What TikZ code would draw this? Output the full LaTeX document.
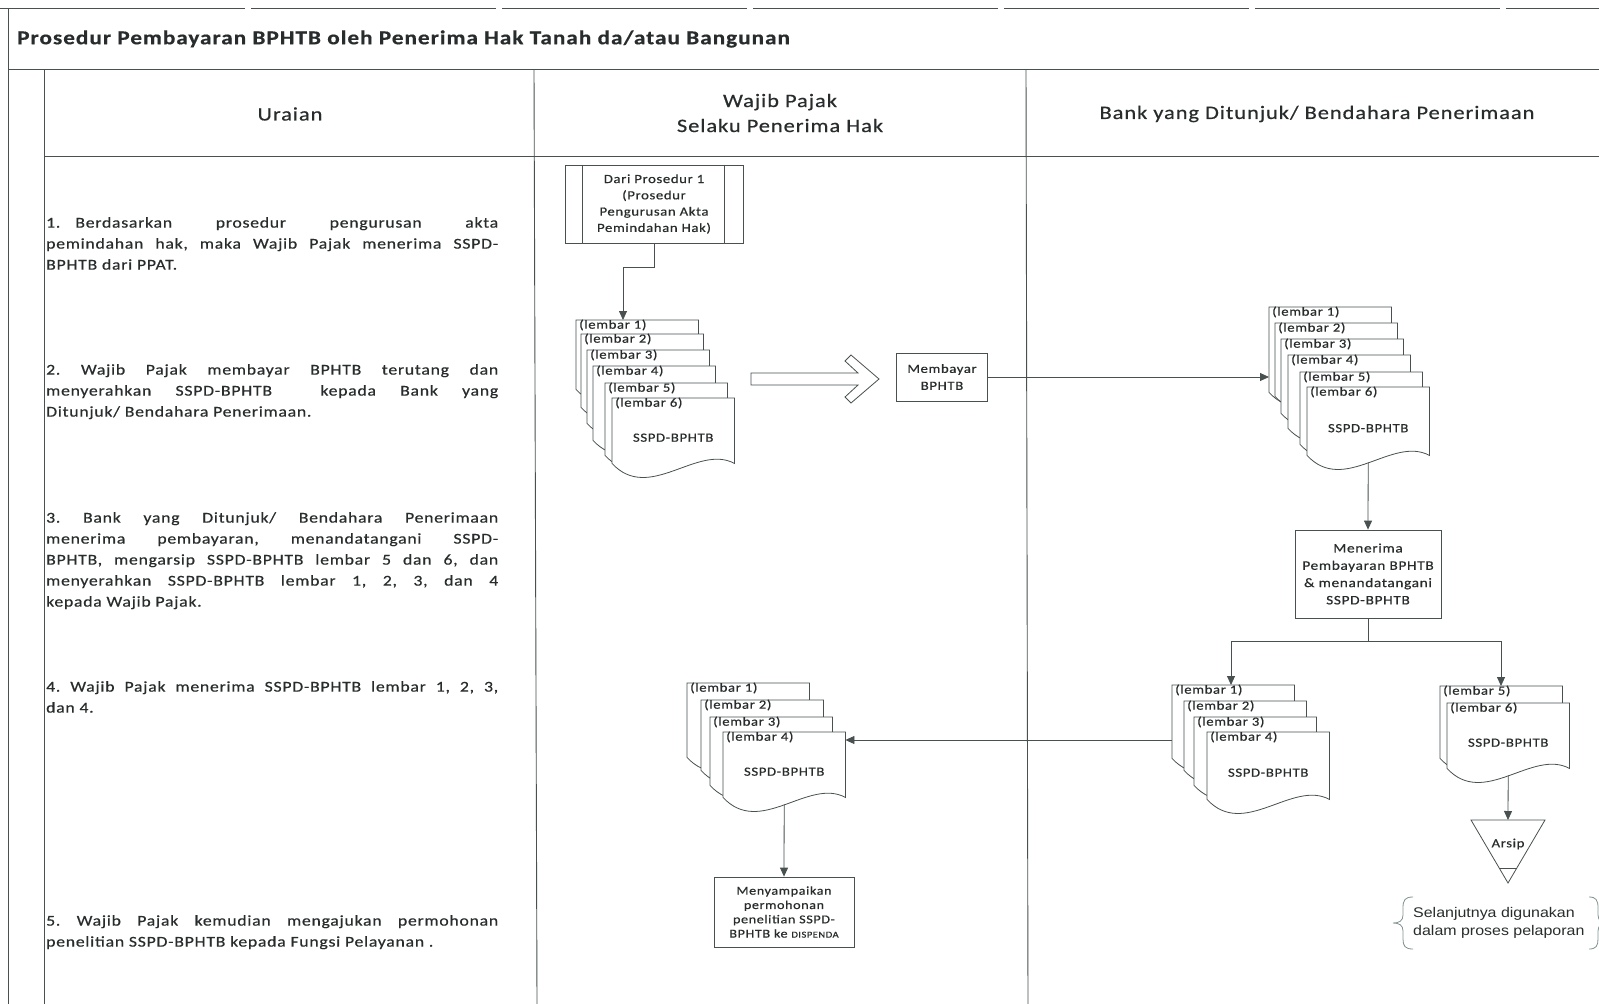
\documentclass[tikz,border=0pt]{standalone}
\usepackage{fontspec}
\setmainfont{Carlito}[FakeStretch=1.18,LetterSpace=5,FakeBold=0.5]
\newfontfamily\arialfont{Liberation Sans}[FakeStretch=1.14]
\usetikzlibrary{arrows.meta,calc}
\definecolor{ink}{RGB}{72,80,80}
\definecolor{txt}{RGB}{40,44,44}
\definecolor{brace}{RGB}{130,146,146}
\tolerance=10000
\hbadness=10000
\frenchspacing
\newcommand{\lembar}[5]{%
  \node[sheetbox, minimum height=#4pt] (#1) at (#2,#3) {};
  \filldraw[sheetline] (#1.north west) -- (#1.north east) -- (#1.south east)
    .. controls ($(#1.south east)+(-37,-20)$) and ($(#1.south west)+(37,40)$) .. (#1.south west) -- cycle;
  \node[lembartext] (#1l) at ([xshift=3pt,yshift=-5pt]#1.north west) {#5};}
\begin{document}
\begin{tikzpicture}[x=1pt,y=-1pt,
  every node/.style={text=txt, inner sep=0pt},
  rule/.style={draw=ink, line width=0.9pt},
  sheetbox/.style={rectangle, anchor=north west, minimum width=122pt},
  sheetline/.style={draw=ink, fill=white, line width=0.8pt},
  lembartext/.style={anchor=west, font=\fontsize{12.5}{14}\selectfont},
  doctext/.style={font=\fontsize{12.5}{14}\selectfont},
  box/.style={draw=ink, fill=white, line width=0.8pt, align=center},
  flow/.style={draw=ink, line width=0.8pt, -{Triangle[length=9pt,width=8pt]}},
  uraian/.style={anchor=north west, text width=452pt, align=justify, font=\fontsize{15}{21}\selectfont},
  kepala/.style={font=\fontsize{19}{25}\selectfont, align=center}]
\useasboundingbox (0,0) rectangle (1599,1004);
\draw[rule, dash pattern=on 245pt off 6pt] (0,8) -- (1599,8);
\draw[rule] (8,8) -- (8,1004);
\draw[rule] (8,69) -- (1599,69);
\draw[rule] (44,69) -- (44,1004);
\draw[rule] (44,156) -- (1599,156);
\draw[rule] (534,69) -- (537,1004);
\draw[rule] (1026,69) -- (1028,1004);

\node[anchor=west, font=\bfseries\fontsize{19.7}{22}\selectfont] (judul) at (17,39) {Prosedur Pembayaran BPHTB oleh Penerima Hak Tanah da/atau Bangunan};
\node[kepala] (hUraian) at (290,114) {Uraian};
\node[kepala] (hWajib) at (780,113) {Wajib Pajak\\Selaku Penerima Hak};
\node[kepala] (hBank) at (1317,114) {Bank yang Ditunjuk/ Bendahara Penerimaan};

\node[uraian] (u1) at (46,217) {1.\quad Berdasarkan prosedur pengurusan akta\linebreak pemindahan hak, maka Wajib Pajak menerima SSPD-\linebreak BPHTB dari PPAT.};
\node[uraian] (u2) at (46,364) {2. Wajib Pajak membayar BPHTB terutang dan\linebreak menyerahkan SSPD-BPHTB\ \ kepada Bank yang\linebreak Ditunjuk/ Bendahara Penerimaan.};
\node[uraian] (u3) at (46,512) {3. Bank yang Ditunjuk/ Bendahara Penerimaan\linebreak menerima pembayaran, menandatangani SSPD-\linebreak BPHTB, mengarsip SSPD-BPHTB lembar 5 dan 6, dan\linebreak menyerahkan SSPD-BPHTB lembar 1, 2, 3, dan 4\linebreak kepada Wajib Pajak.};
\node[uraian] (u4) at (46,681) {4. Wajib Pajak menerima SSPD-BPHTB lembar 1, 2, 3,\linebreak dan 4.};
\node[uraian] (u5) at (46,915) {5. Wajib Pajak kemudian mengajukan permohonan\linebreak penelitian SSPD-BPHTB kepada Fungsi Pelayanan .};

\node[box, minimum width=178pt, minimum height=78pt, font=\fontsize{12.5}{16.3}\selectfont] (dari) at (654,204) {Dari Prosedur 1\\(Prosedur\\Pengurusan Akta\\Pemindahan Hak)};
\draw[sheetline] ([xshift=18pt]dari.north west) -- ([xshift=18pt]dari.south west);
\draw[sheetline] ([xshift=-19pt]dari.north east) -- ([xshift=-19pt]dari.south east);

\lembar{L1}{576}{320}{69}{(lembar 1)}
\lembar{L2}{581}{334}{73}{(lembar 2)}
\lembar{L3}{587}{350}{73}{(lembar 3)}
\lembar{L4}{593}{366}{74}{(lembar 4)}
\lembar{L5}{605}{383}{72}{(lembar 5)}
\lembar{L6}{612}{398}{65}{(lembar 6)}
\node[doctext] (L6t) at ([yshift=-7pt]L6.center) {SSPD-BPHTB};
\draw[flow] (dari.south) -- ++(0,24) -| ([xshift=47pt]L1.north west);

\draw[sheetline] (751,373) -- (858,373) -- (845,361) -- (851,355) -- (879,379) -- (851,403) -- (845,397) -- (858,385) -- (751,385) -- cycle;

\node[box, minimum width=91pt, minimum height=48pt, font=\fontsize{12.5}{17}\selectfont] (bayar) at (942,377) {Membayar\\BPHTB};

\lembar{R1}{1269}{307}{85}{(lembar 1)}
\lembar{R2}{1275}{323}{73}{(lembar 2)}
\lembar{R3}{1281}{339}{74}{(lembar 3)}
\lembar{R4}{1288}{355}{73}{(lembar 4)}
\lembar{R5}{1300}{372}{72}{(lembar 5)}
\lembar{R6}{1307}{387}{68}{(lembar 6)}
\node[doctext] (R6t) at ([yshift=-7pt]R6.center) {SSPD-BPHTB};
\draw[flow] (bayar.east) -- (bayar.east -| R1.west);

\node[box, minimum width=146pt, minimum height=88pt, font=\fontsize{13}{17.3}\selectfont] (terima) at (1368,574) {Menerima\\Pembayaran BPHTB\\\& menandatangani\\SSPD-BPHTB};
\draw[flow] ([yshift=-7pt]R6.south) -- (terima.north);

\lembar{B1}{1172}{685}{73}{(lembar 1)}
\lembar{B2}{1184}{701}{69}{(lembar 2)}
\lembar{B3}{1194}{717}{68}{(lembar 3)}
\lembar{B4}{1207}{732}{67}{(lembar 4)}
\node[doctext] (B4t) at ([yshift=-7pt]B4.center) {SSPD-BPHTB};

\lembar{A5}{1440}{686}{72}{(lembar 5)}
\lembar{A6}{1447}{703}{65}{(lembar 6)}
\node[doctext] (A6t) at ([yshift=-7pt]A6.center) {SSPD-BPHTB};

\draw[flow] (terima.south) -- ++(0,23) -| ([xshift=59pt]B1.north west);
\draw[flow] (terima.south) -- ++(0,23) -| ([xshift=61pt]A5.north west);

\lembar{W1}{687}{683}{74}{(lembar 1)}
\lembar{W2}{701}{700}{70}{(lembar 2)}
\lembar{W3}{710}{717}{68}{(lembar 3)}
\lembar{W4}{723}{732}{65}{(lembar 4)}
\node[doctext] (W4t) at ([yshift=-7pt]W4.center) {SSPD-BPHTB};
\draw[flow] ([yshift=-55pt]B1.north west) -- ([yshift=-55pt]B1.north west -| W4.east);

\node[box, minimum width=140pt, minimum height=70pt, font=\fontsize{12}{14.3}\selectfont] (kirim) at (784,912) {Menyampaikan\\permohonan\\penelitian SSPD-\\BPHTB ke {\fontsize{9}{10}\selectfont DISPENDA}};
\draw[flow] ([yshift=-7pt]W4.south) -- (kirim.north);

\draw[sheetline] (1471,820) -- (1545,820) -- (1508,883) -- cycle;
\draw[sheetline] (1499,868) -- (1517,868);
\node[doctext] (arsip) at (1508,844) {Arsip};
\coordinate (arsiptop) at (1508,820);
\draw[flow] ([yshift=-7pt]A6.south) -- (arsiptop);

\node[anchor=west, align=left, font=\arialfont\fontsize{14}{18}\selectfont] (catatan) at (1413,923) {Selanjutnya digunakan\\dalam proses pelaporan};
\draw[draw=brace, line width=0.8pt] (1413,897) .. controls (1405,897) and (1403,900) .. (1403,908) -- (1403,915) .. controls (1403,921) and (1399,923) .. (1393,923) .. controls (1399,923) and (1403,925) .. (1403,931) -- (1403,939) .. controls (1403,946) and (1405,949) .. (1413,949);
\draw[draw=brace, line width=0.8pt] (1589,897) .. controls (1596,897) and (1598,900) .. (1598,908) -- (1598,915) .. controls (1598,921) and (1602,923) .. (1608,923);
\draw[draw=brace, line width=0.8pt] (1608,923) .. controls (1602,923) and (1598,925) .. (1598,931) -- (1598,939) .. controls (1598,946) and (1596,949) .. (1589,949);
\end{tikzpicture}
\end{document}
